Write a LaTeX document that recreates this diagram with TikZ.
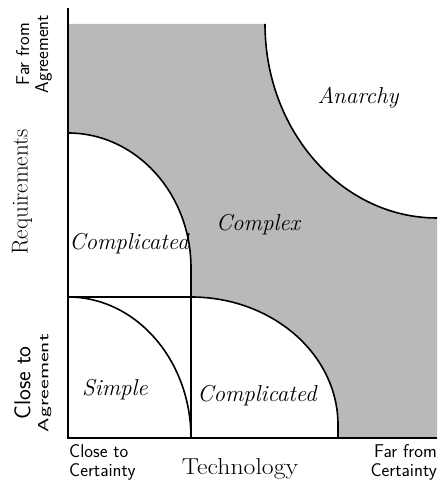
\documentclass[tikz,border=0pt]{standalone}
\usepackage{tikz}

\begin{document}
\begin{tikzpicture}[
    x=1pt, y=1pt,
    region/.style={font=\fontsize{23}{26}\selectfont\itshape, inner sep=1pt},
    axisname/.style={font=\fontsize{23}{26}\selectfont, inner sep=0pt},
    endlabel/.style={font=\fontsize{18.5}{19}\selectfont\sffamily, inner sep=0pt},
    border/.style={line width=1.6pt},
    axisline/.style={line width=2.4pt},
    shade/.style={fill=gray!55}
]
\useasboundingbox (0,0) rectangle (437,487);

% axes corners
\coordinate (O) at (68,49);
\coordinate (ytop) at (68,479);
\coordinate (xend) at (437,49);

% grey field, white zones cut out of it
\fill[shade] (68,463) -- (265,463)
    arc[start angle=180, end angle=270, x radius=172pt, y radius=194pt]
    -- (437,49) -- (O) -- cycle;
\fill[white] (68,354) arc[start angle=90, end angle=0, x radius=123pt, y radius=135pt]
    -- (191,190) -- (68,190) -- cycle;
\fill[white] (68,190) -- (191,190)
    arc[start angle=90, end angle=0, x radius=147pt, y radius=128pt]
    -- (338,49) -- (O) -- cycle;

% boundaries
\draw[border] (265,463) arc[start angle=180, end angle=270, x radius=172pt, y radius=194pt];
\draw[border] (68,354) arc[start angle=90, end angle=0, x radius=123pt, y radius=135pt] -- (191,190);
\draw[border] (68,190) -- (191,190)
    arc[start angle=90, end angle=0, x radius=147pt, y radius=128pt] -- (338,49);
\draw[border] (191,190) -- (191,49);
\draw[border] (68,190) arc[start angle=90, end angle=0, x radius=123pt, y radius=141pt];
\draw[axisline] (ytop) -- (O) -- (xend);

% axis texts
\node[axisname, rotate=90] (req) at (22,295) {Requirements};
\node[axisname] (tech) at (240,18) {\scalebox{1.12}[1]{Technology}};
\node[endlabel, rotate=90, align=center] (farag) at (34,433) {Far from\\Agreement};
\node[endlabel, rotate=90, align=center] (closeag) at (33,104)
    {{\fontsize{23}{18}\selectfont Close to}\\[-1pt]\scalebox{1.25}[0.8]{Agreement}};
\node[endlabel, anchor=north west, align=left] (closecert) at (69,43) {Close to\\Certainty};
\node[endlabel, anchor=north east, align=right] (farcert) at (437,43) {Far from\\Certainty};

% zones
\node[region] (anarchy) at (358,389) {Anarchy};
\node[region] (complex) at (258,262) {Complex};
\node[region] (compup) at (129,243) {Complicated};
\node[region] (simple) at (115,97) {Simple};
\node[region] (complow) at (257,91) {Complicated};

\end{tikzpicture}
\end{document}
